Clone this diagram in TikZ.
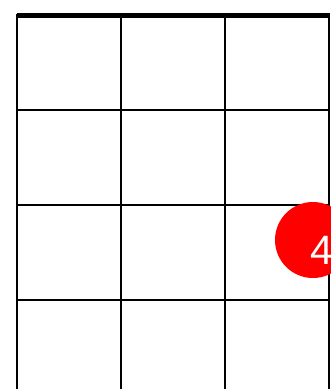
\documentclass[tikz,border=0pt]{standalone}
\usepackage{fontspec}
\setmainfont{Liberation Sans}
\begin{document}
\begin{tikzpicture}[x=1pt,y=1pt,
  gridline/.style={line width=2pt,black},
  nutline/.style={line width=5pt,black},
  fingerdot/.style={circle,fill=red,minimum size=76pt,inner sep=0pt},
  fingerlabel/.style={text=white,font=\fontsize{41}{41}\selectfont,inner sep=0pt}]
\useasboundingbox (0,0) rectangle (330,-389);
\foreach \x in {16.5,120.5,224.5,328.5} \draw[gridline] (\x,-14) -- (\x,-389);
\foreach \y in {109.5,204.5,299.5} \draw[gridline] (16.5,-\y) -- (328.5,-\y);
\draw[nutline] (17,-15.5) -- (330,-15.5);
\node[fingerdot] (dot) at (313,-240) {};
\node[fingerlabel] (lbl) at (322,-250) {4};
\end{tikzpicture}
\end{document}
